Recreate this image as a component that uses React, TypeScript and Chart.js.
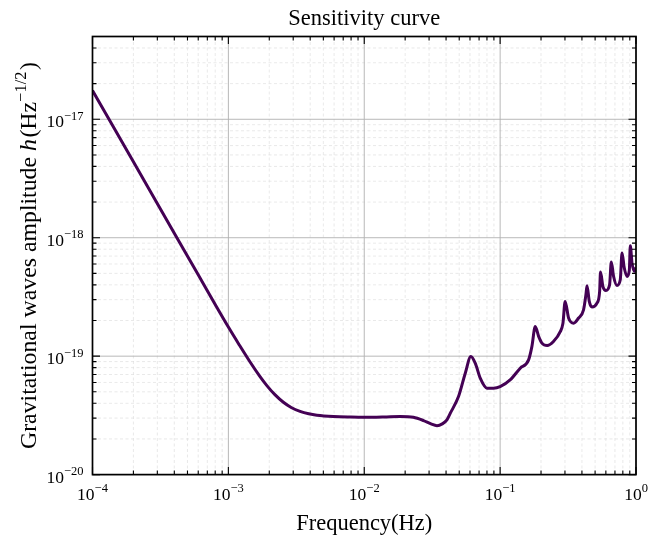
import { useEffect, useRef } from "react";
import { Chart, registerables } from "chart.js";

Chart.register(...registerables);

// ---- Data ----
const frequencies = [
  1e-4, 2e-4, 4e-4, 6e-4, 8e-4, 1e-3, 1.2e-3, 1.445e-3, 1.7e-3, 1.92e-3,
  2.2e-3, 2.54e-3, 2.9e-3, 3.37e-3, 3.9e-3, 4.48e-3, 5.93e-3, 8e-3, 1e-2, 1.4e-2,
  1.84e-2, 2.3e-2, 2.73e-2, 3.1e-2, 3.43e-2, 3.75e-2, 4.06e-2, 4.3e-2, 4.94e-2, 5.54e-2,
  6.09e-2, 6.56e-2, 7.14e-2, 8.0e-2, 8.94e-2, 0.1, 0.1185, 0.1406, 0.162, 0.1714,
  0.1813, 0.192, 0.203, 0.222, 0.247, 0.277, 0.29, 0.301, 0.319, 0.348,
  0.378, 0.411, 0.428, 0.436, 0.453, 0.474, 0.516, 0.54, 0.548, 0.571,
  0.601, 0.639, 0.658, 0.684, 0.724, 0.766, 0.789, 0.82, 0.859, 0.893,
  0.908, 0.935, 0.973, 1.0,
];

const amplitudes = [
  1.75e-17, 4.38e-18, 1.09e-18, 4.86e-19, 2.73e-19, 1.76e-19, 1.25e-19, 8.92e-20, 6.78e-20, 5.64e-20,
  4.73e-20, 4.08e-20, 3.69e-20, 3.42e-20, 3.26e-20, 3.17e-20, 3.09e-20, 3.06e-20, 3.05e-20, 3.07e-20,
  3.1e-20, 3.05e-20, 2.86e-20, 2.68e-20, 2.59e-20, 2.68e-20, 2.9e-20, 3.3e-20, 4.56e-20, 7.18e-20,
  9.93e-20, 8.73e-20, 6.52e-20, 5.37e-20, 5.37e-20, 5.53e-20, 6.3e-20, 7.92e-20, 9.3e-20, 1.21e-19,
  1.78e-19, 1.47e-19, 1.29e-19, 1.23e-19, 1.33e-19, 1.61e-19, 1.9e-19, 2.9e-19, 2.1e-19, 1.9e-19,
  2.1e-19, 2.46e-19, 3.3e-19, 3.93e-19, 2.9e-19, 2.6e-19, 2.8e-19, 3.52e-19, 5.13e-19, 3.87e-19,
  3.59e-19, 4.0e-19, 6.23e-19, 4.71e-19, 3.95e-19, 4.42e-19, 7.43e-19, 5.55e-19, 4.71e-19, 5.3e-19,
  8.55e-19, 6.1e-19, 5.2e-19, 5.6e-19,
];

const xMajorTicks = [1e-4, 1e-3, 1e-2, 1e-1, 1];
const xTickExponents = ["\u22124", "\u22123", "\u22122", "\u22121", "0"];
const yMajorTicks = [1e-20, 1e-19, 1e-18, 1e-17];
const yTickExponents = ["\u221220", "\u221219", "\u221218", "\u221217"];
const minorMultipliers = [2, 3, 4, 5, 6, 7, 8, 9];

const X_MIN = 1e-4;
const X_MAX = 1;
const Y_MIN = 1e-20;
const Y_MAX = 5e-17;

const TITLE = "Sensitivity curve";
const X_TITLE = "Frequency(Hz)";
const Y_TITLE_MAIN = "Gravitational waves amplitude ";
const Y_TITLE_VAR = "h";
const Y_TITLE_UNIT = "(Hz";
const Y_TITLE_SUP = "\u22121/2";
const Y_TITLE_END = ")";

const FONT = '"Liberation Serif", "DejaVu Serif", serif';
const LINE_COLOR = "#440154";

const W = 649;
const H = 540;

function minorValues(majors: number[], max: number) {
  const out: number[] = [];
  majors.forEach((m) => {
    minorMultipliers.forEach((k) => {
      const v = m * k;
      if (v < max * 0.999) out.push(v);
    });
  });
  return out;
}

function drawPow(
  ctx: CanvasRenderingContext2D,
  exp: string,
  x: number,
  y: number,
  align: "center" | "right"
) {
  const base = `17.5px ${FONT}`;
  const sup = `12.5px ${FONT}`;
  ctx.font = base;
  const w1 = ctx.measureText("10").width;
  ctx.font = sup;
  const w2 = ctx.measureText(exp).width;
  const total = w1 + w2;
  const left = align === "center" ? x - total / 2 : x - total;
  ctx.textAlign = "left";
  ctx.textBaseline = "alphabetic";
  ctx.font = base;
  ctx.fillText("10", left, y);
  ctx.font = sup;
  ctx.fillText(exp, left + w1, y - 7.5);
}

const decorPlugin = {
  id: "decor",
  beforeDatasetsDraw(chart: any) {
    const { ctx, chartArea: a, scales } = chart;
    const xs = scales.x;
    const ys = scales.y;
    ctx.save();
    // minor grid
    ctx.setLineDash([3, 2.5]);
    ctx.strokeStyle = "#e0e0e0";
    ctx.lineWidth = 0.7;
    minorValues(xMajorTicks, X_MAX).forEach((v) => {
      const p = xs.getPixelForValue(v);
      ctx.beginPath();
      ctx.moveTo(p, a.top);
      ctx.lineTo(p, a.bottom);
      ctx.stroke();
    });
    minorValues(yMajorTicks, Y_MAX).forEach((v) => {
      const p = ys.getPixelForValue(v);
      ctx.beginPath();
      ctx.moveTo(a.left, p);
      ctx.lineTo(a.right, p);
      ctx.stroke();
    });
    // major grid
    ctx.setLineDash([]);
    ctx.strokeStyle = "#b0b0b0";
    ctx.lineWidth = 0.9;
    xMajorTicks.forEach((v) => {
      const p = xs.getPixelForValue(v);
      ctx.beginPath();
      ctx.moveTo(p, a.top);
      ctx.lineTo(p, a.bottom);
      ctx.stroke();
    });
    yMajorTicks.forEach((v) => {
      const p = ys.getPixelForValue(v);
      ctx.beginPath();
      ctx.moveTo(a.left, p);
      ctx.lineTo(a.right, p);
      ctx.stroke();
    });
    ctx.restore();
  },
  afterDatasetsDraw(chart: any) {
    const { ctx, chartArea: a, scales } = chart;
    const xs = scales.x;
    const ys = scales.y;
    ctx.save();
    ctx.strokeStyle = "#000";
    ctx.lineWidth = 1.1;
    const tickX = (v: number, len: number) => {
      const p = xs.getPixelForValue(v);
      ctx.beginPath();
      ctx.moveTo(p, a.bottom);
      ctx.lineTo(p, a.bottom - len);
      ctx.moveTo(p, a.top);
      ctx.lineTo(p, a.top + len);
      ctx.stroke();
    };
    const tickY = (v: number, len: number) => {
      const p = ys.getPixelForValue(v);
      ctx.beginPath();
      ctx.moveTo(a.left, p);
      ctx.lineTo(a.left + len, p);
      ctx.moveTo(a.right, p);
      ctx.lineTo(a.right - len, p);
      ctx.stroke();
    };
    minorValues(xMajorTicks, X_MAX).forEach((v) => tickX(v, 4));
    minorValues(yMajorTicks, Y_MAX).forEach((v) => tickY(v, 4));
    xMajorTicks.forEach((v) => tickX(v, 7.5));
    yMajorTicks.forEach((v) => tickY(v, 7.5));

    // frame
    ctx.lineWidth = 1.7;
    ctx.strokeRect(a.left, a.top, a.right - a.left, a.bottom - a.top);

    // tick labels
    ctx.fillStyle = "#000";
    xMajorTicks.forEach((v, i) => {
      drawPow(ctx, xTickExponents[i], xs.getPixelForValue(v), a.bottom + 25, "center");
    });
    yMajorTicks.forEach((v, i) => {
      drawPow(ctx, yTickExponents[i], a.left - 9, ys.getPixelForValue(v) + 8, "right");
    });

    // title
    const cx = (a.left + a.right) / 2;
    ctx.textAlign = "center";
    ctx.textBaseline = "alphabetic";
    ctx.font = `22.5px ${FONT}`;
    ctx.fillText(TITLE, cx, 24.5);

    // x title
    ctx.fillText(X_TITLE, cx, 530);

    // y title (rotated)
    const cy = (a.top + a.bottom) / 2;
    ctx.translate(35.5, cy);
    ctx.rotate(-Math.PI / 2);
    const fMain = `23.8px ${FONT}`;
    const fIt = `italic 23.8px ${FONT}`;
    const fSup = `16.5px ${FONT}`;
    ctx.font = fMain;
    const w1 = ctx.measureText(Y_TITLE_MAIN).width;
    ctx.font = fIt;
    const w2 = ctx.measureText(Y_TITLE_VAR).width + 1.5;
    ctx.font = fMain;
    const w3 = ctx.measureText(Y_TITLE_UNIT).width;
    ctx.font = fSup;
    const w4 = ctx.measureText(Y_TITLE_SUP).width + 1.5;
    ctx.font = fMain;
    const w5 = ctx.measureText(Y_TITLE_END).width;
    let x0 = -(w1 + w2 + w3 + w4 + w5) / 2;
    ctx.textAlign = "left";
    ctx.font = fMain;
    ctx.fillText(Y_TITLE_MAIN, x0, 0);
    x0 += w1;
    ctx.font = fIt;
    ctx.fillText(Y_TITLE_VAR, x0, 0);
    x0 += w2;
    ctx.font = fMain;
    ctx.fillText(Y_TITLE_UNIT, x0, 0);
    x0 += w3;
    ctx.font = fSup;
    ctx.fillText(Y_TITLE_SUP, x0, -9.5);
    x0 += w4;
    ctx.font = fMain;
    ctx.fillText(Y_TITLE_END, x0, 0);
    ctx.restore();
  },
};

export default function App() {
  const canvasRef = useRef<HTMLCanvasElement | null>(null);

  useEffect(() => {
    const canvas = canvasRef.current;
    if (!canvas) return;
    const points = frequencies.map((f, i) => ({ x: f, y: amplitudes[i] }));
    const chart = new Chart(canvas, {
      type: "line",
      data: {
        datasets: [
          {
            data: points,
            borderColor: LINE_COLOR,
            borderWidth: 3,
            pointRadius: 0,
            fill: false,
            cubicInterpolationMode: "monotone",
          },
        ],
      },
      options: {
        responsive: false,
        animation: false,
        devicePixelRatio: 1,
        layout: { padding: { top: 36.5, right: 13, left: 0, bottom: 0 } },
        plugins: {
          legend: { display: false },
          title: { display: false },
          tooltip: { enabled: false },
        },
        events: [],
        scales: {
          x: {
            type: "logarithmic",
            min: X_MIN,
            max: X_MAX,
            grid: { display: false, drawTicks: false },
            border: { display: false },
            ticks: { display: false },
            afterFit: (s: any) => {
              s.height = 65.4;
            },
          },
          y: {
            type: "logarithmic",
            min: Y_MIN,
            max: Y_MAX,
            grid: { display: false, drawTicks: false },
            border: { display: false },
            ticks: { display: false },
            afterFit: (s: any) => {
              s.width = 92.5;
            },
          },
        },
      },
      plugins: [decorPlugin],
    } as any);
    return () => chart.destroy();
  }, []);

  return (
    <canvas
      ref={canvasRef}
      width={W}
      height={H}
      style={{ position: "fixed", left: 0, top: 0, display: "block", width: W, height: H }}
    />
  );
}
